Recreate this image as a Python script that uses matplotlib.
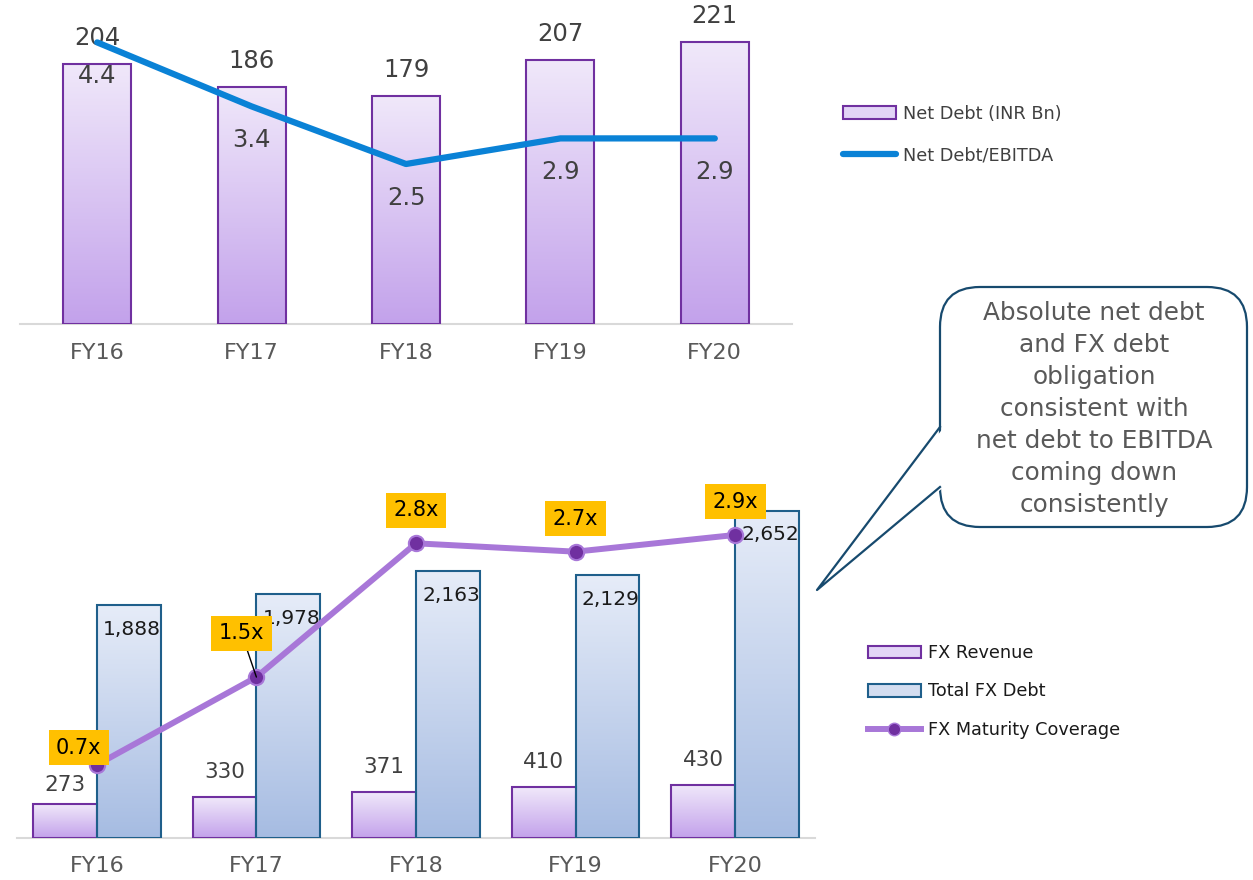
import numpy as np
import matplotlib.pyplot as plt
from matplotlib.patches import Patch, FancyBboxPatch, Polygon
from matplotlib.lines import Line2D
from matplotlib.colors import LinearSegmentedColormap

plt.rcParams['font.family'] = ['DejaVu Sans']

# data
years = ["FY16", "FY17", "FY18", "FY19", "FY20"]
netDebt = [204, 186, 179, 207, 221]
netDebtEbitda = [4.4, 3.4, 2.5, 2.9, 2.9]
fxRevenue = [273, 330, 371, 410, 430]
fxDebt = [1888, 1978, 2163, 2129, 2652]
fxCoverage = [0.7, 1.54, 2.82, 2.74, 2.9]
calloutText = ("Absolute net debt\nand FX debt\nobligation\nconsistent with\n"
               "net debt to EBITDA\ncoming down\nconsistently")

W, H = 1253, 880
purpleEdge = "#7030A0"
blueEdge = "#1F5F8B"
lineBlue = "#0A82D6"
lineLilac = "#A877D8"
greyText = "#404040"


def px(x0, y0, x1, y1):
    # pixel box (top-left origin) -> figure fraction rect
    return [x0 / W, 1 - y1 / H, (x1 - x0) / W, (y1 - y0) / H]


def gradientBars(ax, bars, cTop, cBottom):
    cmap = LinearSegmentedColormap.from_list("g", [cBottom, cTop])
    grad = np.linspace(1, 0, 100).reshape(-1, 1)
    for b in bars:
        x0, y0, w, h = b.get_x(), b.get_y(), b.get_width(), b.get_height()
        im = ax.imshow(grad, extent=[x0, x0 + w, y0, y0 + h], aspect="auto",
                       cmap=cmap, zorder=2, interpolation="bilinear")
        im.set_clip_path(b)


def cleanAxes(ax, bottomSpine=True):
    for s in ["top", "left", "right"]:
        ax.spines[s].set_visible(False)
    if bottomSpine:
        ax.spines["bottom"].set_color("#D9D9D9")
        ax.spines["bottom"].set_linewidth(1.5)
    else:
        ax.spines["bottom"].set_visible(False)
    ax.set_yticks([])


fig = plt.figure(figsize=(W / 100, H / 100), dpi=100)
x = np.arange(len(years))

# ---- top chart
ax = fig.add_axes(px(20, 0, 792, 324))
bars = ax.bar(x, netDebt, width=0.44, facecolor="none", edgecolor=purpleEdge,
              linewidth=1.5, zorder=3)
gradientBars(ax, bars, "#F0E8FA", "#C3A2EB")
ax.set_xlim(-0.5, 4.5)
ax.set_ylim(0, 254)
cleanAxes(ax)
ax.set_xticks(x)
ax.set_xticklabels(years, fontsize=16, color="#595959")
ax.tick_params(axis="x", length=0, pad=14)
for xi, v in zip(x, netDebt):
    ax.annotate(str(v), (xi, v), xytext=(0, 26), textcoords="offset pixels",
                ha="center", va="center", fontsize=17.5, color=greyText, zorder=4)

ax2 = ax.twinx()
ax2.plot(x, netDebtEbitda, color=lineBlue, lw=4.5, solid_capstyle="round",
         solid_joinstyle="round", zorder=5)
ax2.set_ylim(0, 324 / 64)
cleanAxes(ax2, False)
for xi, v in zip(x, netDebtEbitda):
    ax2.annotate(f"{v:.1f}", (xi, v), xytext=(0, -34), textcoords="offset pixels",
                 ha="center", va="center", fontsize=17.5, color=greyText)

hTop = [Patch(facecolor="#E2D4F6", edgecolor=purpleEdge, lw=1.5),
        Line2D([0], [0], color=lineBlue, lw=4.5, solid_capstyle="round")]
fig.legend(hTop, ["Net Debt (INR Bn)", "Net Debt/EBITDA"], loc="center left",
           bbox_to_anchor=(843 / W, 1 - 134.5 / H), frameon=False, fontsize=12.7,
           handlelength=3.0, handletextpad=0.4, labelspacing=1.35,
           borderpad=0, borderaxespad=0, labelcolor=greyText)

# ---- bottom chart
ax3 = fig.add_axes(px(17, 480, 815, 838))
b1 = ax3.bar(x - 0.2, fxRevenue, width=0.4, facecolor="none", edgecolor=purpleEdge,
             linewidth=1.5, zorder=3)
b2 = ax3.bar(x + 0.2, fxDebt, width=0.4, facecolor="none", edgecolor=blueEdge,
             linewidth=1.5, zorder=3)
gradientBars(ax3, b1, "#F0E8FA", "#C3A2EB")
gradientBars(ax3, b2, "#E6ECF8", "#A6BCE2")
ax3.set_xlim(-0.5, 4.5)
ax3.set_ylim(0, 2903)
cleanAxes(ax3)
ax3.set_xticks(x)
ax3.set_xticklabels(years, fontsize=16, color="#595959")
ax3.tick_params(axis="x", length=0, pad=13)
revOffsets = {0: 19}
for i, (xi, v) in enumerate(zip(x, fxRevenue)):
    ax3.annotate(f"{v:,}", (xi - 0.2, v), xytext=(0, revOffsets.get(i, 25)),
                 textcoords="offset pixels", ha="center", va="center",
                 fontsize=15.5, color=greyText, zorder=4)
for xi, v in zip(x, fxDebt):
    ax3.annotate(f"{v:,}", (xi + 0.2, v), xytext=(3, -24), textcoords="offset pixels",
                 ha="center", va="center", fontsize=14.5, color="#1A1A1A", zorder=4)

ax4 = ax3.twinx()
ax4.plot(x, fxCoverage, color=lineLilac, lw=4.3, marker="o", markersize=11,
         markerfacecolor=purpleEdge, markeredgecolor=lineLilac, markeredgewidth=1.5,
         solid_capstyle="round", zorder=5)
ax4.set_ylim(0, 358 / 104.5)
cleanAxes(ax4, False)
labelOffsets = {0: (-18, 17), 1: (-15, 44)}
for i, (xi, v) in enumerate(zip(x, fxCoverage)):
    off = labelOffsets.get(i, (0, 33))
    arrow = dict(arrowstyle="-", color="black", lw=1, shrinkA=0, shrinkB=0) if i == 1 else None
    ax4.annotate(f"{v:.1f}x", (xi, v), xytext=off, textcoords="offset pixels",
                 ha="center", va="center", fontsize=15, color="black",
                 bbox=dict(boxstyle="square,pad=0.36", facecolor="#FFC000", edgecolor="none"),
                 arrowprops=arrow, zorder=6)

hBot = [Patch(facecolor="#E2D4F6", edgecolor=purpleEdge, lw=1.5),
        Patch(facecolor="#D3DDF0", edgecolor=blueEdge, lw=1.5),
        Line2D([0], [0], color=lineLilac, lw=4.3, marker="o", markersize=9,
               markerfacecolor=purpleEdge, markeredgecolor=lineLilac)]
fig.legend(hBot, ["FX Revenue", "Total FX Debt", "FX Maturity Coverage"],
           loc="center left", bbox_to_anchor=(868 / W, 1 - 691.5 / H), frameon=False,
           fontsize=12.7, handlelength=3.0, handletextpad=0.4, labelspacing=1.15,
           borderpad=0, borderaxespad=0, labelcolor="#1A1A1A")

# ---- callout, drawn on an overlay in pixel coords
ov = fig.add_axes([0, 0, 1, 1])
ov.set_xlim(0, W)
ov.set_ylim(H, 0)
ov.axis("off")
ov.patch.set_alpha(0)
calloutEdge = "#174A6E"
ov.add_patch(FancyBboxPatch((940, 287), 307, 240,
                            boxstyle="round,pad=0,rounding_size=40",
                            facecolor="white", edgecolor=calloutEdge, lw=1.6, zorder=1))
tail = [(940, 427), (817, 590), (940, 487)]
ov.add_patch(Polygon([(944, 427), tail[1], (944, 487)], closed=True,
                     facecolor="white", edgecolor="none", zorder=2))
ov.plot([p[0] for p in tail], [p[1] for p in tail], color=calloutEdge, lw=1.6, zorder=3)
ov.text(1094, 409, calloutText, ha="center", va="center",
        fontsize=17.8, color="#595959", linespacing=1.42, zorder=4)

fig.savefig("out.png", dpi=100)
